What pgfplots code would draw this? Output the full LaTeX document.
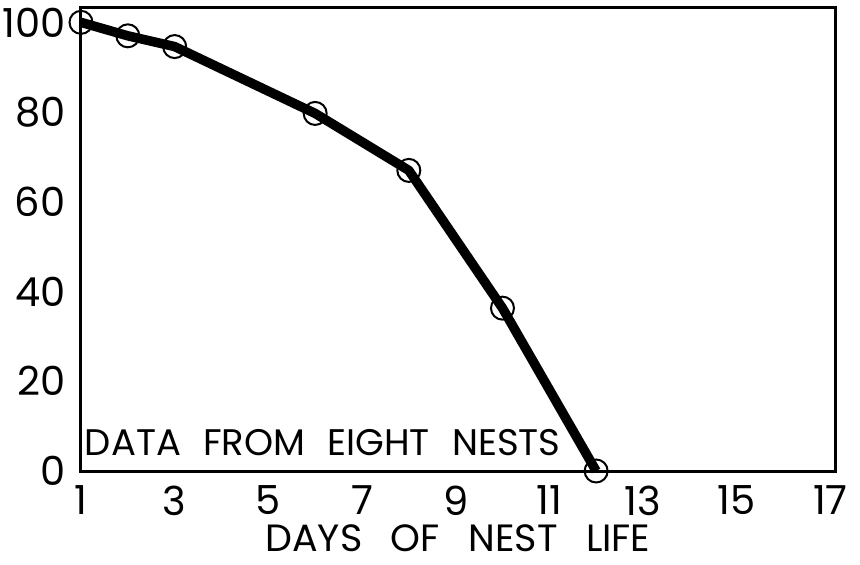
\documentclass[border=0pt]{standalone}
\usepackage{pgfplots}
\pgfplotsset{compat=1.18}
\usepackage{fontspec}
\setmainfont{Poppins}
\begin{document}
\begin{tikzpicture}
\begin{axis}[
  scale only axis,
  width=754pt, height=463pt,
  xmin=1, xmax=17.1, ymin=0, ymax=103.2,
  xtick={1,3,5,7,9,11,13,15,17},
  ytick={0,20,40,60,80,100},
  major tick length=0pt,
  axis line style={line width=3pt},
  ticklabel style={font=\fontsize{40}{40}\selectfont},
  /pgf/number format/assume math mode=true,
  xticklabel style={anchor=north, yshift=-11pt},
  yticklabel style={anchor=east, xshift=-12pt},
  clip=false,
]
\addplot[black, line width=9.5pt, line join=round] coordinates {
  (1,100) (2,97) (3,94.6) (6,79.7) (8,67) (10,36.3) (12,0)
};
\addplot[only marks, mark=o, mark size=11.5pt, mark options={line width=2pt, black}] coordinates {
  (1,100) (2,97) (3,94.6) (6,79.7) (8,67) (10,36.3) (12,0)
};
\node[anchor=south west, inner sep=0pt, font=\fontsize{37}{37}\selectfont] at (axis cs:1.08,3.3) {DATA\hspace{0.6em}FROM\hspace{0.6em}EIGHT\hspace{0.6em}NESTS};
\node[anchor=base, inner sep=0pt, font=\fontsize{38}{38}\selectfont] at (axis cs:9.05,-18.0) {DAYS\hspace{0.75em}OF\hspace{0.75em}NEST\hspace{0.75em}LIFE};
\end{axis}
\pgfresetboundingbox
\path[use as bounding box] (current axis.south west) ++(-81pt,-94pt) rectangle ++(860pt,565pt);
\end{tikzpicture}
\end{document}
